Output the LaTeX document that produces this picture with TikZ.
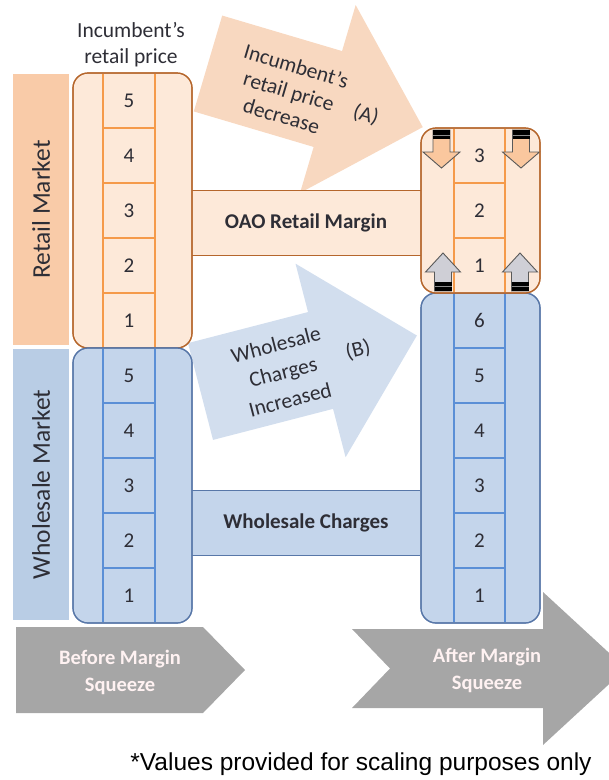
\documentclass[tikz,border=0pt]{standalone}
\usepackage{fontspec}
\setmainfont{Carlito}
\newfontfamily\arialfont{Liberation Sans}
\definecolor{retailFill}{HTML}{FDE9D9}
\definecolor{retailLine}{HTML}{B5662C}
\definecolor{retailGrid}{HTML}{F59A4A}
\definecolor{retailBar}{HTML}{F9CBA8}
\definecolor{arrowA}{HTML}{F8D8C0}
\definecolor{wsFill}{HTML}{C4D5EB}
\definecolor{wsLine}{HTML}{5877A8}
\definecolor{wsGrid}{HTML}{5B8FD6}
\definecolor{wsBar}{HTML}{B9CDE5}
\definecolor{arrowB}{HTML}{D2DEEE}
\definecolor{stageGray}{HTML}{A6A6A6}
\definecolor{txtDark}{HTML}{2E2E36}
\definecolor{downFill}{HTML}{FAC79E}
\definecolor{upFill}{HTML}{CFCFD6}
\begin{document}
\begin{tikzpicture}[x=1pt,y=-1pt,
  numtxt/.style={font=\fontsize{21}{24}\selectfont, text=txtDark, inner sep=0pt},
  lbltxt/.style={font=\fontsize{21.5}{26}\selectfont, text=txtDark, align=center, inner sep=0pt},
  boldtxt/.style={font=\bfseries\fontsize{21}{24}\selectfont, text=txtDark, inner sep=0pt},
  sidetxt/.style={font=\fontsize{25.5}{28}\selectfont, text=txtDark, inner sep=0pt, rotate=90},
  stagetxt/.style={font=\bfseries\fontsize{20.5}{27}\selectfont, text=white!95!red, align=center, inner sep=0pt},
  rbox/.style={draw=retailLine, fill=retailFill, line width=1.2pt, rounded corners=15pt, inner sep=0pt},
  wbox/.style={draw=wsLine, fill=wsFill, line width=1.2pt, rounded corners=15pt, inner sep=0pt},
  rgrid/.style={draw=retailGrid, line width=1.2pt},
  wgrid/.style={draw=wsGrid, line width=1.2pt},
  sidebar/.style={inner sep=0pt, minimum width=56pt},
  smallarr/.style={draw=black!65, line width=0.9pt, line join=miter},
  downblk/.pic={
    \path[smallarr, fill=downFill] (-8.5,0) -- (8.5,0) -- (8.5,22) -- (18.5,22) -- (0,38) -- (-18.5,22) -- (-8.5,22) -- cycle;
    \fill[black] (-8.5,0) rectangle (8.5,9);
    \draw[black!45, line width=0.9pt] (-8.5,5) -- (8.5,5);
  },
  upblk/.pic={
    \path[smallarr, fill=upFill] (-8.5,0) -- (8.5,0) -- (8.5,-19) -- (17.5,-19) -- (0,-38) -- (-17.5,-19) -- (-8.5,-19) -- cycle;
    \fill[black] (-8.5,0) rectangle (8.5,-9);
    \draw[black!45, line width=0.9pt] (-8.5,-5) -- (8.5,-5);
  }
]
\useasboundingbox (0,0) rectangle (609,780);
\clip (0,0) rectangle (609,780);

% big block arrows (A) and (B)
\begin{scope}[shift={(208,63.5)}, rotate=-16.5]
  \fill[arrowA] (0,-50) -- (125,-50) -- (125,-98) -- (224,0) -- (125,98) -- (125,50) -- (0,50) -- cycle;
\end{scope}
\begin{scope}[shift={(200.5,391.5)}, rotate=14.5]
  \fill[arrowB] (0,-50) -- (124,-50) -- (124,-100) -- (223.5,0) -- (124,100) -- (124,50) -- (0,50) -- cycle;
\end{scope}
\node[lbltxt, rotate=-16.5] (atext) at (289,91) {Incumbent's\\retail price\\decrease};
\node[lbltxt, rotate=-16.5] (alabel) at (366,115) {(A)};
\node[lbltxt, rotate=14.5, font=\fontsize{21.5}{28.5}\selectfont] (btext) at (283,372) {Wholesale\\Charges\\Increased};
\node[lbltxt, rotate=14.5] (blabel) at (358,350) {(B)};

% margin bars between the columns
\node[fill=retailFill, minimum width=230pt, minimum height=64pt, inner sep=0pt] (oao) at (307,223) {};
\draw[retailLine, line width=1.2pt] (oao.north west) -- (oao.north east) (oao.south west) -- (oao.south east);
\node[boldtxt] (oaotxt) at (306,223) {OAO Retail Margin};
\node[fill=wsFill, minimum width=228pt, minimum height=64pt, inner sep=0pt] (wsc) at (306,523) {};
\draw[wsLine, line width=1.2pt] (wsc.north west) -- (wsc.north east) (wsc.south west) -- (wsc.south east);
\node[boldtxt] (wsctxt) at (wsc.center) {Wholesale Charges};

% market side bars
\node[sidebar, fill=retailBar, minimum height=271pt] (rmbar) at (41,209.5) {};
\node[sidetxt] (rmtxt) at (rmbar.center) {Retail Market};
\node[sidebar, fill=wsBar, minimum height=271pt] (wmbar) at (41,484.5) {};
\node[sidetxt] (wmtxt) at (wmbar.center) {Wholesale Market};

% before: retail and wholesale stacks
\node[rbox, minimum width=119pt, minimum height=275pt] (lretail) at (132.5,210.5) {};
\draw[rgrid] (103,73.6) -- (103,347.4) (155,73.6) -- (155,347.4);
\foreach \yy in {128,183,238,293} \draw[rgrid] (103,\yy) -- (155,\yy);
\node[rbox, fill=none, minimum width=119pt, minimum height=275pt] (lretailb) at (132.5,210.5) {};
\foreach \n [count=\i] in {5,4,3,2,1}
  \node[numtxt] (lr\n) at (129,{73+55*\i-27.5}) {\n};

\node[wbox, minimum width=119pt, minimum height=275pt] (lws) at (132.5,485.5) {};
\draw[wgrid] (103,348.6) -- (103,622.4) (155,348.6) -- (155,622.4);
\foreach \yy in {403,458,513,568} \draw[wgrid] (103,\yy) -- (155,\yy);
\node[wbox, fill=none, minimum width=119pt, minimum height=275pt] (lwsb) at (132.5,485.5) {};
\foreach \n [count=\i] in {5,4,3,2,1}
  \node[numtxt] (lw\n) at (129,{348+55*\i-27.5}) {\n};

% after: retail and wholesale stacks
\node[wbox, minimum width=119pt, minimum height=330pt] (rws) at (480.5,458) {};
\draw[wgrid] (454,293.6) -- (454,622.4) (505,293.6) -- (505,622.4);
\foreach \yy in {348,403,458,513,568} \draw[wgrid] (454,\yy) -- (505,\yy);
\node[wbox, fill=none, minimum width=119pt, minimum height=330pt] (rwsb) at (480.5,458) {};
\foreach \n [count=\i] in {6,5,4,3,2,1}
  \node[numtxt] (rw\n) at (479.5,{293+55*\i-27.5}) {\n};

\node[rbox, minimum width=119pt, minimum height=165pt] (rretail) at (480.5,210.5) {};
\draw[rgrid] (454,128.6) -- (454,292.4) (505,128.6) -- (505,292.4);
\foreach \yy in {183,238} \draw[rgrid] (454,\yy) -- (505,\yy);
\foreach \n [count=\i] in {3,2,1}
  \node[numtxt] (rr\n) at (479.5,{128+55*\i-27.5}) {\n};
\pic at (441.5,130) {downblk};
\pic at (521,130) {downblk};
\pic at (443,291) {upblk};
\pic at (520,291) {upblk};
\node[rbox, fill=none, minimum width=119pt, minimum height=165pt] (rretailb) at (480.5,210.5) {};

% column heading
\node[lbltxt] (head) at (131,45) {Incumbent's\\retail price};

% stage arrows
\fill[stageGray] (16,627) -- (203,627) -- (245,670) -- (203,713) -- (16,713) -- cycle;
\node[stagetxt] (before) at (120,672.5) {Before Margin\\Squeeze};
\fill[stageGray] (352,629) -- (543,629) -- (543,592) -- (626,668.5) -- (543,745) -- (543,708) -- (352,708) -- (390,668.5) -- cycle;
\node[stagetxt] (after) at (487,670.5) {After Margin\\Squeeze};

% footnote
\node[font=\arialfont\fontsize{24.5}{28}\selectfont, text=black, anchor=base, inner sep=0pt] (note) at (361,770) {*Values provided for scaling purposes only};
\end{tikzpicture}
\end{document}
